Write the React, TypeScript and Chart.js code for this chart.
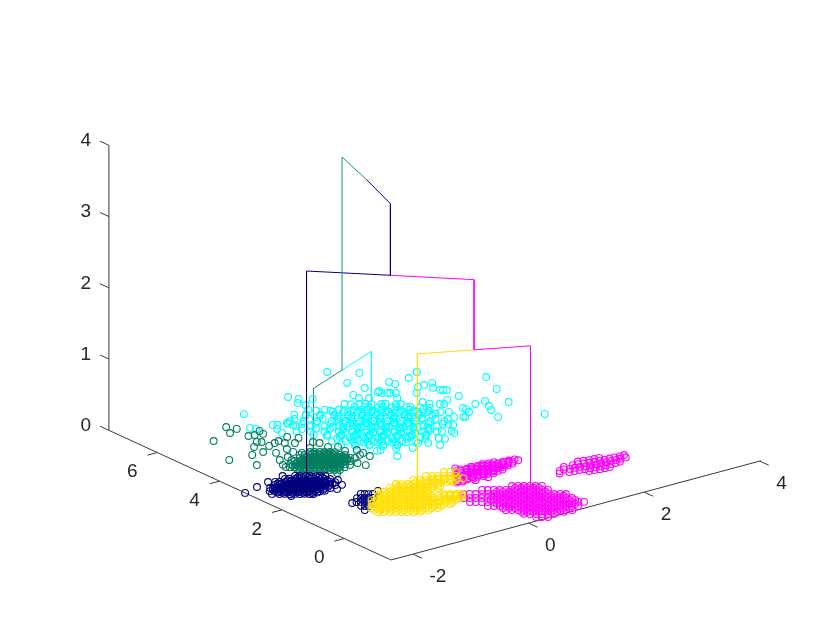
import React, { useEffect, useRef } from "react";
import { Chart, registerables } from "chart.js";

Chart.register(...registerables);

// Ground-plane samples (x, y), all at z = 0
const navyPoints = [
[-1.43,3.34],[-1.38,3.29],[-1.32,3.21],[-1.27,3.17],[-1.21,3.09],[-1.16,3.05],[-1.10,2.98],
[-1.61,3.33],[-1.56,3.28],[-1.50,3.20],[-1.45,3.16],[-1.40,3.08],[-1.34,3.03],[-1.29,2.98],[-1.23,2.90],[-1.18,2.86],[-1.12,2.79],
[-1.79,3.31],[-1.74,3.26],[-1.68,3.18],[-1.63,3.13],[-1.57,3.08],[-1.52,3.00],[-1.47,2.96],[-1.41,2.88],[-1.36,2.83],[-1.30,2.78],[-1.25,2.70],[-1.19,2.66],[-1.14,2.59],
[-1.87,3.18],[-1.81,3.13],[-1.76,3.05],[-1.70,3.01],[-1.65,2.93],[-1.59,2.89],[-1.54,2.81],[-1.48,2.77],[-1.43,2.69],[-1.37,2.65],[-1.32,2.57],[-1.26,2.53],[-1.21,2.46],
[-1.99,3.10],[-1.94,3.05],[-1.88,2.97],[-1.83,2.93],[-1.77,2.86],[-1.72,2.82],[-1.66,2.74],[-1.61,2.70],[-1.55,2.62],[-1.50,2.58],[-1.44,2.50],[-1.39,2.46],[-1.33,2.39],
[-2.07,2.97],[-2.01,2.92],[-1.96,2.84],[-1.90,2.80],[-1.85,2.73],[-1.79,2.69],[-1.74,2.61],[-1.68,2.57],[-1.63,2.49],[-1.57,2.45],[-1.52,2.37],[-1.46,2.33],
[-2.03,2.72],[-1.97,2.67],[-1.92,2.59],[-1.86,2.55],[-1.81,2.48],[-1.75,2.44],[-1.70,2.37],
[-1.44,3.24],[-1.39,3.19],[-1.33,3.11],[-1.28,3.07],[-1.22,2.99],[-1.17,2.95],[-1.62,3.23],[-1.57,3.18],[-1.51,3.10],[-1.46,3.06],[-1.41,2.98],[-1.35,2.93],[-1.30,2.88],[-1.24,2.80],[-1.19,2.76],
[-1.80,3.21],[-1.75,3.16],[-1.69,3.08],[-1.64,3.03],[-1.58,2.98],[-1.53,2.90],[-1.48,2.86],[-1.42,2.78],[-1.37,2.73],[-1.31,2.68],[-1.26,2.60],[-1.20,2.56],
[-1.88,3.08],[-1.82,3.03],[-1.77,2.95],[-1.71,2.91],[-1.66,2.83],[-1.60,2.79],[-1.55,2.71],[-1.49,2.67],[-1.44,2.59],[-1.38,2.55],[-1.33,2.47],
[-2.00,3.00],[-1.95,2.95],[-1.89,2.87],[-1.84,2.83],[-1.78,2.76],[-1.73,2.72],[-1.67,2.64],[-1.62,2.60],[-1.56,2.52],[-1.51,2.48],[-1.45,2.40],
[-2.02,2.82],[-1.97,2.74],[-1.91,2.70],[-1.86,2.63],[-1.80,2.59],[-1.75,2.51],[-1.69,2.47],[-1.64,2.39],[-1.58,2.35],
[-2.38,3.18],[-2.11,3.30],[-1.87,3.39],[-2.11,2.82],[-1.95,2.50],[-1.66,2.33],[-1.06,2.65],[-1.13,2.39],[-1.28,2.27],[-1.96,3.07],[-1.57,3.48],
[-1.14,1.77],[-1.10,1.72],[-1.06,1.67],[-1.01,1.62],[-1.28,1.63],[-1.23,1.59],[-1.19,1.54],[-1.15,1.49],[-1.10,1.45],
[-1.38,1.46],[-1.33,1.42],[-1.29,1.37],[-1.25,1.32],[-1.42,1.24],[-1.38,1.19],[-1.34,1.14],[-1.48,1.01],[-1.45,1.47],[-.88,1.70],
];
const greenPoints = [
[-.70,4.22],[-.65,4.16],[-.59,4.10],[-.54,4.04],[-.48,3.98],[-.43,3.92],
[-.88,4.21],[-.83,4.15],[-.77,4.09],[-.72,4.03],[-.66,3.97],[-.61,3.91],[-.55,3.85],[-.50,3.79],[-.44,3.73],[-.39,3.67],
[-.95,4.08],[-.90,4.02],[-.84,3.96],[-.79,3.90],[-.73,3.84],[-.68,3.78],[-.62,3.72],[-.57,3.66],[-.51,3.60],[-.46,3.54],[-.40,3.48],
[-1.08,4.00],[-1.02,3.94],[-.97,3.88],[-.91,3.82],[-.86,3.76],[-.80,3.70],[-.75,3.64],[-.69,3.58],[-.64,3.52],[-.58,3.46],[-.53,3.40],[-.47,3.34],
[-1.20,3.92],[-1.15,3.86],[-1.09,3.81],[-1.04,3.75],[-.98,3.69],[-.93,3.63],[-.87,3.57],[-.82,3.51],[-.76,3.45],[-.71,3.39],[-.65,3.33],[-.60,3.27],
[-1.28,3.79],[-1.23,3.73],[-1.17,3.68],[-1.12,3.62],[-1.06,3.56],[-1.01,3.50],[-.95,3.44],[-.90,3.38],[-.84,3.32],[-.79,3.26],[-.73,3.20],[-.68,3.14],
[-1.24,3.55],[-1.19,3.49],[-1.13,3.43],[-1.08,3.37],[-1.02,3.31],[-.97,3.25],[-.91,3.19],[-.86,3.13],[-.80,3.07],
[-.71,4.12],[-.66,4.06],[-.60,4.00],[-.55,3.94],[-.49,3.88],[-.84,4.05],[-.78,3.99],[-.73,3.93],[-.67,3.87],[-.62,3.81],[-.56,3.75],[-.51,3.69],[-.45,3.63],
[-.96,3.98],[-.91,3.92],[-.85,3.86],[-.80,3.80],[-.74,3.74],[-.69,3.68],[-.63,3.62],[-.58,3.56],[-.52,3.50],[-.47,3.44],
[-1.09,3.90],[-1.03,3.84],[-.98,3.78],[-.92,3.72],[-.87,3.66],[-.81,3.60],[-.76,3.54],[-.70,3.48],[-.65,3.42],[-.59,3.36],
[-1.21,3.82],[-1.16,3.76],[-1.10,3.71],[-1.05,3.65],[-.99,3.59],[-.94,3.53],[-.88,3.47],[-.83,3.41],[-.77,3.35],[-.72,3.29],
[-1.24,3.63],[-1.18,3.58],[-1.13,3.52],[-1.07,3.46],[-1.02,3.40],[-.96,3.34],[-.91,3.28],[-.85,3.22],[-.80,3.16],
[-1.02,6.31],[-1.12,6.00],[-.95,6.10],[-1.49,5.84],[-1.77,4.82],[-1.59,4.27],[-1.40,4.77],[-1.21,4.77],[-1.19,5.10],[-.99,5.65],[-.90,5.62],[-.75,5.74],[-.78,5.57],[-1.04,5.29],[-.99,5.23],
[-1.00,4.97],[-.87,5.03],[-.78,5.07],[-1.09,4.58],[-1.22,4.22],[-1.30,3.97],[-.59,5.15],[-.76,4.91],[-.88,4.62],[-.88,4.42],[-.49,4.97],[-.65,4.79],[-.81,4.27],[-1.09,4.08],[-.43,4.62],
[-.38,4.50],[-.60,4.40],[-.38,4.23],[-.54,4.04],[-.27,4.11],[-.14,3.75],[-.44,3.52],[-.35,3.42],[-.57,3.17],[-.14,3.33],[-.40,2.98],[-.54,3.49],[-1.06,4.26],[-1.32,3.84],[-.90,2.97],
[-.29,3.85],[-.22,3.50],[-.44,3.17],[-.14,3.55],
];
const cyanPoints = [
[.82,5.92],[.88,5.83],[.99,5.76],[1.05,5.69],[1.11,5.60],[1.22,5.49],[1.27,5.45],[1.38,5.31],[1.43,5.26],
[.29,6.10],[.35,5.96],[.47,5.91],[.51,5.80],[.62,5.74],[.66,5.65],[.78,5.57],[.81,5.47],[.93,5.41],[.97,5.31],[1.09,5.24],[1.12,5.15],[1.24,5.08],[1.28,4.97],[1.39,4.91],[1.43,4.82],[1.55,4.74],[1.58,4.64],
[.02,6.05],[.12,5.88],[.15,5.92],[.27,5.70],[.31,5.75],[.43,5.53],[.46,5.58],[.58,5.37],[.62,5.41],[.73,5.20],[.77,5.25],[.89,5.04],[.92,5.08],[1.04,4.87],[1.08,4.92],[1.20,4.70],[1.23,4.75],[1.35,4.54],[1.39,4.58],[1.50,4.37],[1.58,4.42],
[-.19,5.81],[-.08,5.86],[-.04,5.65],[.08,5.69],[.11,5.48],[.23,5.53],[.27,5.31],[.39,5.36],[.42,5.15],[.54,5.19],[.58,4.98],[.69,5.03],[.73,4.81],[.85,4.86],[.88,4.65],[1.00,4.70],[1.04,4.48],[1.16,4.53],[1.19,4.32],[1.31,4.36],[1.35,4.15],[1.46,4.20],[1.50,3.98],
[-.27,5.72],[-.24,5.51],[-.12,5.55],[-.08,5.34],[.03,5.39],[.07,5.17],[.19,5.22],[.23,5.01],[.34,5.06],[.38,4.84],[.50,4.89],[.53,4.68],[.65,4.72],[.69,4.51],[.80,4.56],[.84,4.34],[.96,4.39],[1.00,4.18],[1.11,4.23],[1.15,4.01],[1.27,4.06],[1.30,3.85],[1.42,3.89],
[-.35,5.29],[-.24,5.33],[-.20,5.12],[-.08,5.17],[-.05,4.96],[.07,5.00],[.11,4.79],[.22,4.84],[.26,4.62],[.38,4.67],[.42,4.46],[.53,4.50],[.57,4.29],[.69,4.34],[.72,4.13],[.84,4.17],[.88,3.96],[.99,4.01],[1.03,3.79],[1.15,3.84],[1.18,3.63],
[-.24,4.95],[-.13,4.73],[-.09,4.78],[.03,4.57],[.06,4.62],[.18,4.40],[.22,4.45],[.34,4.24],[.37,4.28],[.49,4.07],[.53,4.12],[.64,3.90],[.68,3.95],[.80,3.74],[.83,3.79],[.95,3.57],[.99,3.62],
[-.21,4.43],[-.09,4.48],[-.05,4.27],[.06,4.31],[.10,4.10],[.22,4.15],[.25,3.93],[.37,3.98],[.41,3.77],[.52,3.81],[.56,3.60],[.68,3.65],[.72,3.44],
[-.17,4.18],[-.06,3.96],[-.02,4.01],[.10,3.80],[.13,3.84],[.25,3.63],[.29,3.68],[.41,3.47],[.44,3.51],
[.33,5.21],[.42,5.00],[.48,5.04],[.60,4.83],[.64,4.88],[.75,4.66],[.79,4.71],[.91,4.50],[.94,4.54],[1.06,4.33],[1.10,4.38],
[.16,4.69],[.26,4.47],[.32,4.52],[.44,4.31],[.47,4.35],[.59,4.14],[.63,4.19],[.74,3.97],[.78,4.02],[.90,3.81],
[.45,5.43],[.56,5.22],[.60,5.26],[.72,5.05],[.76,5.10],[.87,4.88],[.91,4.93],[1.03,4.72],[1.06,4.76],[1.18,4.55],[1.22,4.60],[1.34,4.39],
[.87,5.69],[.96,5.55],[1.01,5.52],[1.11,5.38],[1.17,5.35],[1.26,5.22],[1.32,5.19],[1.42,5.05],[1.47,5.02],[1.57,4.88],
[.51,5.72],[.61,5.58],[.67,5.55],[.76,5.41],[.82,5.39],[.92,5.25],[.97,5.22],[1.07,5.08],[1.12,5.06],[1.22,4.91],[1.28,4.89],[1.38,4.75],[1.43,4.72],[1.53,4.58],
[.15,5.06],[.25,4.92],[.31,4.90],[.40,4.75],[.46,4.73],[.56,4.59],[.61,4.56],[.71,4.42],[.77,4.40],[.86,4.25],[.92,4.23],[1.02,4.09],[1.08,4.06],[1.17,3.92],
[-.01,4.54],[.09,4.40],[.14,4.37],[.24,4.23],[.30,4.21],[.39,4.06],[.45,4.04],[.55,3.90],[.61,3.87],[.70,3.73],[.76,3.71],[.86,3.56],
[.02,4.15],[.12,4.01],[.18,3.99],[.27,3.84],[.33,3.82],[.43,3.68],[.48,3.65],[.58,3.51],
[2.37,6.48],[2.14,6.31],[1.83,6.37],[1.85,6.21],[2.03,5.81],[2.14,5.82],[2.28,5.82],[2.17,5.59],[2.20,5.42],[2.23,5.38],[2.27,5.33],[3.01,5.44],[2.84,4.79],[2.26,4.93],[1.87,5.56],[1.51,6.09],[1.49,5.97],[1.55,5.91],[1.58,5.87],[1.64,5.80],[1.54,5.57],
[2.04,4.89],[1.72,5.09],[2.25,4.38],[2.43,4.40],[2.66,4.07],[2.35,4.13],[2.28,3.93],[2.19,3.54],[2.77,3.12],[2.02,4.35],[2.03,4.27],[1.99,4.10],[1.81,3.95],[1.83,3.92],[1.86,4.80],[1.91,4.75],[1.75,4.92],[1.66,4.74],[1.77,4.34],[1.68,4.43],
[1.71,4.06],[1.51,3.72],[1.59,4.04],[1.48,3.82],[1.35,3.47],[1.33,3.35],[1.22,3.54],[1.04,3.31],[1.09,3.20],[.89,2.99],[.81,3.22],[.87,3.43],[1.10,3.74],[.52,3.18],[.70,3.34],[.16,3.01],[.34,3.38],[.12,3.47],[.06,3.47],
[1.39,7.54],[1.72,7.12],[1.35,6.82],[1.42,6.39],[.37,6.90],[.44,6.69],[.33,6.52],[.59,6.52],[1.13,6.22],[1.12,6.02],[1.23,5.90],[1.47,6.06],[-.52,6.67],[-.78,5.99],[-.74,5.87],[-.46,5.85],[-.41,5.79],[-.51,5.62],[-.55,5.39],[-.26,5.77],[.37,6.34],[-.24,5.61],
];
const yellowPoints = [
[.29,1.75],[.36,1.68],[.42,1.61],
[0,1.79],[.07,1.72],[.13,1.65],[.20,1.58],[.26,1.51],[.33,1.44],
[-.23,1.76],[-.16,1.69],[-.10,1.61],[-.03,1.54],[.04,1.47],[.10,1.40],[.17,1.33],[.23,1.26],
[-.52,1.79],[-.46,1.72],[-.39,1.65],[-.32,1.58],[-.26,1.51],[-.19,1.44],[-.13,1.37],[-.06,1.30],
[-.68,1.69],[-.62,1.62],[-.55,1.55],[-.48,1.47],[-.42,1.40],[-.35,1.33],[-.29,1.26],[-.22,1.19],[-.15,1.12],
[-.91,1.65],[-.84,1.58],[-.78,1.51],[-.71,1.44],[-.64,1.37],[-.58,1.30],[-.51,1.23],[-.45,1.16],[-.38,1.09],[-.23,.78],[-.17,.71],[-.10,.64],[-.03,.57],
[-1.00,1.48],[-.94,1.41],[-.87,1.34],[-.81,1.26],[-.74,1.19],[-.67,1.12],[-.61,1.05],[-.54,.98],[-.48,.91],[-.41,.84],[-.34,.77],[-.28,.69],[-.21,.62],[-.15,.55],[-.08,.48],
[-1.17,1.37],[-1.10,1.30],[-1.03,1.23],[-.97,1.16],[-.90,1.09],[-.84,1.01],[-.77,.94],[-.70,.87],[-.64,.80],[-.57,.73],[-.51,.66],[-.44,.59],[-.37,.52],[-.31,.45],[-.24,.38],
[-1.26,1.20],[-1.20,1.12],[-1.13,1.05],[-1.06,.98],[-1.00,.91],[-.93,.84],[-.86,.77],[-.80,.70],[-.73,.63],[-.67,.56],[-.60,.49],[-.53,.41],[-.47,.34],[-.40,.27],
[-1.36,1.02],[-1.29,.95],[-1.23,.88],[-1.16,.81],[-1.09,.74],[-1.03,.66],[-.96,.59],[-.89,.52],[-.83,.45],[-.76,.38],[-.70,.31],[-.63,.24],
[-1.38,.77],[-1.32,.70],[-1.25,.63],[-1.19,.56],[-1.12,.49],[-1.06,.42],[-.99,.35],[-.92,.28],
[.02,1.60],[.09,1.53],[.15,1.46],[.22,1.39],[.29,1.32],[.35,1.25],[-.25,1.64],[-.18,1.57],[-.12,1.49],[-.05,1.42],[.02,1.35],[.08,1.28],[.15,1.21],
[-.54,1.67],[-.48,1.60],[-.41,1.53],[-.34,1.46],[-.28,1.39],[-.21,1.32],[-.15,1.25],[-.08,1.18],[-.70,1.57],[-.64,1.50],[-.57,1.43],[-.50,1.35],[-.44,1.28],[-.37,1.21],[-.31,1.14],
[-.93,1.53],[-.86,1.46],[-.80,1.39],[-.73,1.32],[-.66,1.25],[-.60,1.18],[-.53,1.11],[-.47,1.04],[-.40,.97],[-.20,.66],[-.14,.60],[-.07,.53],
[-1.02,1.36],[-.96,1.29],[-.89,1.22],[-.83,1.14],[-.76,1.07],[-.69,1.00],[-.63,.93],[-.56,.86],[-.50,.79],[-.43,.72],[-.36,.65],[-.30,.57],[-.23,.50],[-.17,.43],
[-1.19,1.25],[-1.12,1.18],[-1.05,1.11],[-.99,1.04],[-.92,.97],[-.86,.89],[-.79,.82],[-.72,.75],[-.66,.68],[-.59,.61],[-.53,.54],[-.46,.47],[-.39,.40],[-.33,.33],
[-1.28,1.08],[-1.22,1.00],[-1.15,.93],[-1.08,.86],[-1.02,.79],[-.95,.72],[-.88,.65],[-.82,.58],[-.75,.51],[-.69,.44],[-.62,.37],[-.55,.29],
[-1.38,.90],[-1.31,.83],[-1.25,.76],[-1.18,.69],[-1.11,.62],[-1.05,.54],[-.98,.47],[-.91,.40],[-.85,.33],[-.78,.26],
];
const magentaPoints = [
[.30,1.39],[.39,1.41],[.48,1.37],[.57,1.40],[.66,1.38],[.75,1.41],[.84,1.38],[.93,1.40],[1.02,1.37],[1.11,1.41],[1.20,1.38],[1.29,1.40],[1.38,1.39],
[.37,1.52],[.46,1.54],[.55,1.50],[.64,1.53],[.73,1.51],[.82,1.54],[.91,1.50],[1.00,1.52],[1.09,1.50],[1.18,1.51],[1.27,1.49],[1.36,1.47],
[.25,1.26],[.34,1.24],[.43,1.28],[.52,1.25],[.61,1.27],[.70,1.24],[.79,1.28],[.88,1.25],[.97,1.27],[1.06,1.26],[1.15,1.29],[1.24,1.31],
[.44,1.65],[.53,1.67],[.62,1.63],[.71,1.66],[.80,1.62],[.89,1.64],[.98,1.61],[1.07,1.60],
[.18,1.13],[.27,1.11],[.36,1.15],[.45,1.12],[.54,1.14],[.63,1.11],[.72,1.15],[.81,1.12],[.90,1.16],[.99,1.17],
[.50,1.78],[.44,1.02],[.65,1.00],
[.34,1.46],[.43,1.45],[.52,1.46],[.61,1.44],[.70,1.46],[.79,1.45],[.88,1.46],[.97,1.45],[1.06,1.45],[1.15,1.45],[1.24,1.44],
[.30,1.33],[.39,1.32],[.48,1.33],[.57,1.32],[.66,1.33],[.75,1.32],[.84,1.33],[.93,1.32],[1.02,1.33],[1.11,1.34],
[.41,1.59],[.50,1.60],[.59,1.58],[.68,1.59],[.77,1.57],[.86,1.58],[.95,1.57],[.22,1.19],[.31,1.18],[.40,1.20],[.49,1.19],[.58,1.20],[.67,1.19],[.76,1.21],[.85,1.20],
[1.58,.43],[1.66,.45],[1.74,.40],[1.82,.39],[1.90,.37],[1.98,.33],[2.06,.32],[2.14,.28],[2.22,.29],[2.30,.26],[2.38,.27],[2.46,.25],[2.54,.26],[2.62,.24],
[1.72,.56],[1.86,.53],[1.94,.51],[2.02,.47],[2.10,.44],[2.18,.42],[2.26,.41],[2.34,.40],[2.42,.39],[2.50,.38],[2.58,.36],[2.66,.37],
[1.52,.32],[1.66,.27],[1.74,.25],[1.82,.24],[1.90,.21],[1.98,.20],[2.06,.16],[2.14,.15],[2.22,.14],[2.30,.13],[2.38,.12],[2.46,.13],
[2.00,.63],[2.08,.60],[2.16,.56],[2.24,.55],[2.32,.54],[1.90,.08],[1.98,.06],[2.06,.03],[2.14,.02],[2.22,.01],
[.70,.33],[.77,.26],[.83,.19],[.90,.12],[.96,.05],[1.03,-.02],
[.28,.51],[.34,.44],[.41,.37],[.47,.30],[.54,.23],[.60,.16],[.67,.09],[.74,.01],[.80,-.06],[.87,-.13],[.94,-.20],[1.00,-.27],
[-.02,.55],[.05,.48],[.11,.41],[.18,.33],[.25,.26],[.31,.19],[.38,.12],[.44,.05],[.51,-.02],[.58,-.09],[.64,-.16],[.71,-.23],[.77,-.31],[.84,-.38],[.91,-.45],[.97,-.52],[1.04,-.59],[1.10,-.66],
[-.11,.37],[-.05,.30],[.02,.23],[.08,.16],[.15,.09],[.22,.02],[.28,-.06],[.35,-.13],[.41,-.20],[.48,-.27],[.55,-.34],[.61,-.41],[.68,-.48],[.74,-.55],[.81,-.62],[.88,-.69],[.94,-.77],[1.01,-.84],[1.07,-.91],
[-.14,.12],[-.08,.05],[-.01,-.02],[.05,-.09],[.12,-.16],[.19,-.23],[.25,-.30],[.32,-.37],[.39,-.44],[.45,-.52],[.52,-.59],[.58,-.66],[.65,-.73],[.72,-.80],[.78,-.87],[.85,-.94],[.91,-1.01],[.98,-1.08],[1.05,-1.15],[1.11,-1.22],
[-.04,-.27],[.03,-.34],[.09,-.41],[.16,-.48],[.22,-.55],[.29,-.62],[.36,-.69],[.42,-.76],[.49,-.83],[.55,-.91],[.62,-.98],[.69,-1.05],[.75,-1.12],[.82,-1.19],[.88,-1.26],[.95,-1.33],
[.06,-.66],[.13,-.73],[.20,-.80],[.26,-.87],[.33,-.94],[.39,-1.01],[.46,-1.08],[.53,-1.15],[.59,-1.22],[.66,-1.30],[.72,-1.37],[.79,-1.44],
[.17,-1.04],[.23,-1.12],[.30,-1.19],[.36,-1.26],[.43,-1.33],[.50,-1.40],[.23,-1.32],[.29,-1.39],[.36,-1.46],
[.69,.21],[.76,.14],[.82,.07],[.89,0],[.95,-.07],[.39,.25],[.46,.18],[.53,.11],[.59,.04],[.66,-.03],[.73,-.11],[.79,-.18],[.86,-.25],[.93,-.32],
[.24,.14],[.30,.07],[.37,0],[.43,-.07],[.50,-.14],[.57,-.21],[.63,-.28],[.70,-.35],[.76,-.43],[.83,-.50],[.90,-.57],[.96,-.64],[1.03,-.71],
[.14,-.03],[.21,-.10],[.27,-.18],[.34,-.25],[.40,-.32],[.47,-.39],[.54,-.46],[.60,-.53],[.67,-.60],[.73,-.67],[.80,-.74],[.87,-.81],[.93,-.89],[1.00,-.96],[1.06,-1.03],
[.11,-.28],[.18,-.35],[.24,-.42],[.31,-.49],[.38,-.56],[.44,-.64],[.51,-.71],[.57,-.78],[.64,-.85],[.71,-.92],[.77,-.99],[.84,-1.06],[.90,-1.13],[.97,-1.20],
[.08,-.53],[.15,-.60],[.21,-.67],[.28,-.74],[.35,-.81],[.41,-.88],[.48,-.95],[.54,-1.03],[.61,-1.10],[.68,-1.17],[.74,-1.24],[.81,-1.31],
[.19,-.92],[.25,-.99],[.32,-1.06],[.38,-1.13],[.45,-1.20],[.52,-1.27],[.58,-1.34],[.65,-1.42],
];

// Dendrogram branches (x, y, z)
const tealRise = [[-.145,4.215,1.03],[-.145,4.215,4.02],[-.41,2.95,4.02]];
const navyBranch = [[-.41,2.95,4.02],[-.675,1.68,3.99],[-.675,1.68,2.985],[-1.49,2.86,2.985],[-1.49,2.86,0]];
const magentaBranch = [[-.675,1.68,2.985],[.135,.50,2.985],[.135,.50,2],[.848,.01,2],[.848,.01,0]];
const yellowBranch = [[.135,.50,2],[-.58,.99,2],[-.58,.99,0]];
const tealBranch = [[-.145,4.215,1.03],[-.895,3.74,1.03],[-.895,3.74,0]];
const cyanBranch = [[-.145,4.215,1.03],[.62,4.69,1.03],[.62,4.69,0]];

// Axes
const xRange = [-2.38, 4.02];
const yRange = [-1.5, 7.55];
const zRange = [0, 4];
const xTicks = [-2, 0, 2, 4];
const yTicks = [0, 2, 4, 6];
const zTicks = [0, 1, 2, 3, 4];

// Fixed viewing direction of the 3D axes onto the chart's flat scales
const project = (x: number, y: number, z = 0) => ({
  x: 481.8 + 57.8 * x - 31.17 * y,
  y: 501.6 - 15.5 * x - 14.33 * y - 71.25 * z,
});

const ring = (label: string, pts: number[][], color: string, order: number) => ({
  label, type: "scatter" as const, order, showLine: false,
  data: pts.map(([x, y]) => project(x, y)),
  pointStyle: "circle", pointRadius: 3.4, pointHoverRadius: 3.4,
  borderColor: color, pointBorderColor: color, pointBorderWidth: 1.1,
  pointBackgroundColor: "rgba(0,0,0,0)", backgroundColor: "rgba(0,0,0,0)",
});
const path = (label: string, pts: number[][], color: string, order: number, width = 1) => ({
  label, type: "scatter" as const, order, showLine: true, borderColor: color, borderWidth: width,
  pointRadius: 0, fill: false, tension: 0,
  data: pts.map(([x, y, z]) => project(x, y, z)),
});

const AXIS = "#3a3a3a";

const tickLabels = {
  id: "tickLabels",
  afterDatasetsDraw(chart: any) {
    const { ctx, scales } = chart;
    ctx.save();
    ctx.font = '19px "Liberation Sans", Arial, sans-serif';
    ctx.fillStyle = "#262626";
    ctx.textBaseline = "middle";
    const put = (t: string, p: { x: number; y: number }, dx: number, dy: number, align: string) => {
      ctx.textAlign = align;
      ctx.fillText(t, scales.x.getPixelForValue(p.x) + dx, scales.y.getPixelForValue(p.y) + dy);
    };
    xTicks.forEach((v) => put(String(v), project(v, yRange[0]), 16.5, 23, "left"));
    yTicks.forEach((v) => put(String(v), project(xRange[0], v), -25, 19.5, "center"));
    zTicks.forEach((v) => put(String(v), project(xRange[0], yRange[1], v), -23, -4.5, "center"));
    ctx.restore();
  },
};

export default function App() {
  const ref = useRef<HTMLCanvasElement | null>(null);
  useEffect(() => {
    const axisPaths: any[] = [
      path("x axis", [[xRange[0], yRange[0], 0], [xRange[1], yRange[0], 0]], AXIS, 50),
      path("y axis", [[xRange[0], yRange[0], 0], [xRange[0], yRange[1], 0]], AXIS, 50),
      path("z axis", [[xRange[0], yRange[1], 0], [xRange[0], yRange[1], zRange[1]]], AXIS, 50),
      ...xTicks.map((v) => path("x tick", [[v, yRange[0], 0], [v, yRange[0] - 0.29, 0]], AXIS, 50)),
      ...yTicks.map((v) => path("y tick", [[xRange[0], v, 0], [xRange[0] - 0.17, v, 0]], AXIS, 50)),
      ...zTicks.map((v) => path("z tick", [[xRange[0], yRange[1], v], [xRange[0], yRange[1] + 0.29, v]], AXIS, 50)),
    ];
    const chart = new Chart(ref.current as HTMLCanvasElement, {
      type: "scatter",
      data: {
        datasets: [
          ...axisPaths,
          path("teal branch", tealBranch, "#1f8f74", 41),
          ring("cyan", cyanPoints, "#00ffff", 40),
          path("teal rise", tealRise, "#1f8f74", 35),
          path("navy branch", navyBranch, "#00007f", 35),
          path("magenta branch", magentaBranch, "#ff00ff", 35),
          path("yellow branch", yellowBranch, "#ffdf00", 35),
          path("cyan branch", cyanBranch, "#00ffff", 35),
          ring("green", greenPoints, "#007f5f", 38),
          ring("navy", navyPoints, "#00007f", 30),
          ring("magenta", magentaPoints, "#ff00ff", 20),
          ring("yellow", yellowPoints, "#ffdf00", 10),
        ] as any,
      },
      options: {
        responsive: false,
        animation: false,
        layout: { padding: 0, autoPadding: false },
        plugins: { legend: { display: false }, tooltip: { enabled: false }, title: { display: false } },
        scales: {
          x: { type: "linear", min: 0, max: 840, display: false },
          y: { type: "linear", min: 0, max: 630, reverse: true, display: false },
        },
      },
      plugins: [tickLabels],
    });
    return () => chart.destroy();
  }, []);
  return (
    <canvas
      ref={ref}
      width={840}
      height={630}
      style={{ position: "fixed", left: 0, top: 0, width: 840, height: 630, background: "#ffffff" }}
    />
  );
}
